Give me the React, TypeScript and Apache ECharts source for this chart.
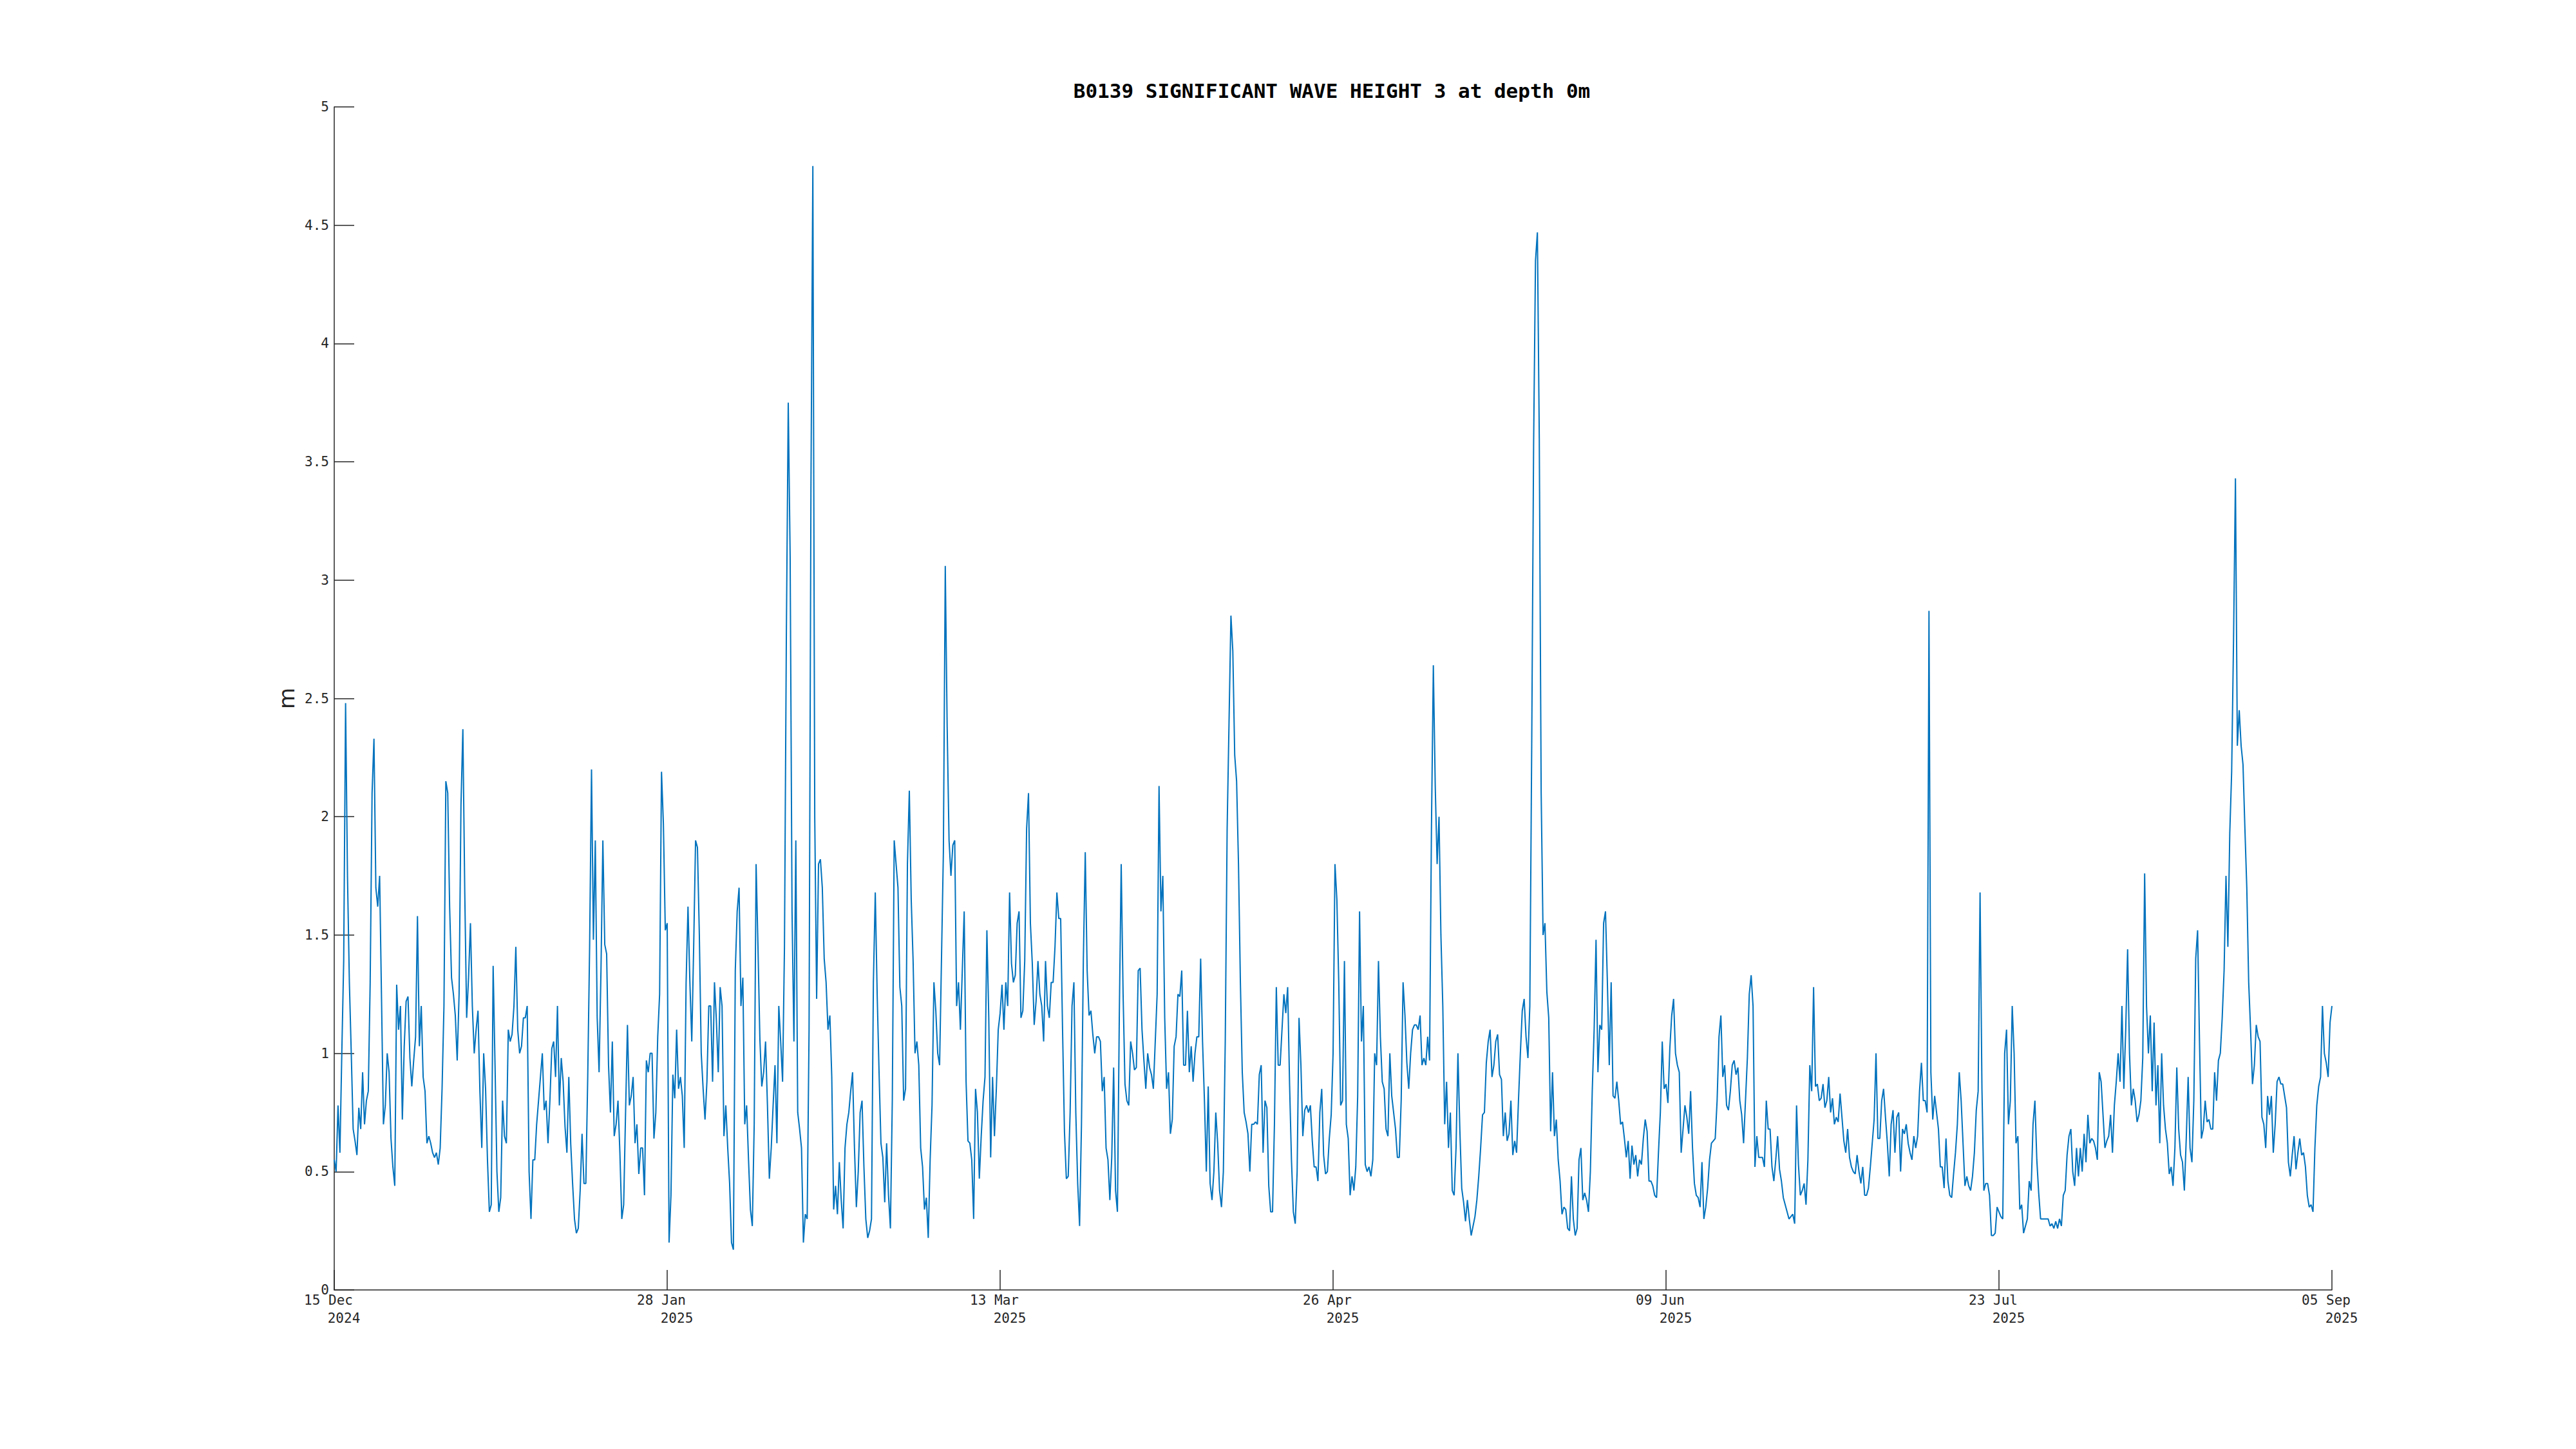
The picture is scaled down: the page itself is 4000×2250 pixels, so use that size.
import React, { useEffect, useRef } from "react";
import * as echarts from "echarts";

// Significant wave height (m), sampled every 6 hours from 15 Dec 2024 00:00
const START_UTC = Date.UTC(2024, 11, 15);
const STEP_DAYS = 0.25;

const hsDecJan = [
  0.55,0.5,0.78,0.58,1.0,1.39,2.48,1.75,1.3,1.0,
  0.68,0.63,0.57,0.77,0.68,0.92,0.7,0.8,0.84,1.3,
  2.1,2.33,1.7,1.62,1.75,1.23,0.7,0.78,1.0,0.92,
  0.64,0.52,0.44,1.29,1.1,1.2,0.72,1.03,1.22,1.24,
  0.98,0.86,0.97,1.07,1.58,1.03,1.2,0.9,0.84,0.62,
  0.65,0.62,0.58,0.56,0.58,0.53,0.6,0.85,1.2,2.15,
  2.1,1.62,1.32,1.25,1.16,0.97,1.25,2.05,2.37,1.68,
  1.15,1.32,1.55,1.2,1.0,1.1,1.18,0.84,0.6,1.0,
  0.85,0.55,0.33,0.36,1.37,0.95,0.5,0.33,0.39,0.8,
  0.65,0.62,1.1,1.05,1.08,1.2,1.45,1.1,1.0,1.03,
  1.15,1.15,1.2,0.5,0.3,
];
const hsJanFeb = [
  0.55,0.55,0.7,0.8,0.9,1.0,0.76,0.8,0.62,0.8,
  1.02,1.05,0.9,1.2,0.78,0.98,0.88,0.69,0.58,0.9,
  0.62,0.45,0.3,0.24,0.26,0.42,0.66,0.45,0.45,0.9,
  1.45,2.2,1.48,1.9,1.15,0.92,1.35,1.9,1.46,1.42,
  0.95,0.75,1.05,0.65,0.7,0.8,0.58,0.3,0.36,0.75,
  1.12,0.78,0.82,0.9,0.62,0.7,0.49,0.6,0.6,0.4,
  0.97,0.92,1.0,1.0,0.64,0.75,1.07,1.25,2.19,1.97,
  1.52,1.55,0.2,0.4,0.91,0.81,1.1,0.85,0.9,0.82,
  0.6,1.3,1.62,1.3,1.05,1.45,1.9,1.87,1.5,1.0,
  0.85,0.72,0.88,1.2,1.2,0.88,1.3,1.14,0.92,1.28,
  1.2,0.65,0.78,0.6,0.45,0.2,
];
const hsFebMar = [
  0.17,1.35,1.6,1.7,1.2,1.32,0.7,0.78,0.55,0.34,
  0.27,0.7,1.8,1.45,1.06,0.86,0.92,1.05,0.78,0.47,
  0.6,0.78,0.95,0.62,1.2,1.05,0.88,1.45,2.77,3.75,
  3.1,1.6,1.05,1.9,0.75,0.68,0.6,0.2,0.32,0.3,
  1.1,3.4,4.75,2.0,1.23,1.8,1.82,1.7,1.4,1.3,
  1.1,1.16,0.9,0.34,0.44,0.32,0.54,0.38,0.26,0.6,
  0.7,0.75,0.84,0.92,0.6,0.35,0.5,0.75,0.8,0.52,
  0.3,0.22,0.25,0.3,1.3,1.68,1.25,0.92,0.62,0.56,
  0.37,0.62,0.4,0.26,0.8,1.9,1.8,1.7,1.28,1.2,
  0.8,0.85,1.8,2.11,1.65,1.39,1.0,1.05,0.95,0.6,
  0.52,0.34,0.39,0.22,0.55,0.78,1.3,
];
const hsMarApr = [
  1.18,1.0,0.95,1.4,1.85,3.06,2.38,1.9,1.75,1.88,
  1.9,1.2,1.3,1.1,1.35,1.6,0.88,0.63,0.62,0.55,
  0.3,0.85,0.75,0.47,0.65,0.8,0.9,1.52,1.15,0.56,
  0.9,0.65,0.85,1.1,1.17,1.29,1.1,1.3,1.2,1.68,
  1.38,1.3,1.33,1.55,1.6,1.15,1.18,1.39,1.95,2.1,
  1.55,1.38,1.12,1.22,1.39,1.25,1.2,1.05,1.39,1.2,
  1.15,1.3,1.3,1.45,1.68,1.57,1.57,1.1,0.67,0.47,
  0.48,0.75,1.2,1.3,0.75,0.45,0.27,0.7,1.4,1.85,
  1.35,1.16,1.18,1.08,1.0,1.07,1.07,1.05,0.84,0.9,
  0.6,0.55,0.38,0.56,0.94,0.42,0.33,1.16,1.8,1.25,
  0.87,0.8,0.78,1.05,1.0,0.93,
];
const hsAprMay = [
  0.94,1.35,1.36,1.1,0.97,0.85,1.0,0.94,0.91,0.85,
  1.05,1.25,2.13,1.6,1.75,1.15,0.85,0.92,0.66,0.72,
  1.03,1.07,1.25,1.24,1.35,0.95,0.95,1.18,0.92,1.03,
  0.88,1.0,1.07,1.07,1.4,1.05,0.8,0.5,0.86,0.45,
  0.38,0.5,0.75,0.62,0.42,0.35,0.5,1.05,1.95,2.4,
  2.85,2.7,2.26,2.15,1.8,1.3,0.92,0.75,0.71,0.66,
  0.5,0.7,0.7,0.71,0.7,0.91,0.95,0.58,0.8,0.77,
  0.44,0.33,0.33,0.7,1.28,0.95,0.95,1.1,1.25,1.17,
  1.28,0.87,0.55,0.33,0.28,0.5,1.15,0.95,0.65,0.76,
  0.78,0.75,0.78,0.63,0.52,0.52,0.46,0.75,0.85,0.57,
  0.49,0.5,0.64,0.74,1.0,1.8,
];
const hsMayJun = [
  1.65,1.3,0.78,0.8,1.39,0.7,0.64,0.4,0.48,0.42,
  0.52,0.82,1.6,1.05,1.2,0.53,0.5,0.52,0.48,0.55,
  1.0,0.95,1.39,1.07,0.88,0.85,0.68,0.65,1.0,0.82,
  0.75,0.68,0.56,0.56,0.8,1.3,1.16,0.96,0.85,1.0,
  1.1,1.12,1.12,1.1,1.16,0.95,0.98,0.95,1.07,0.97,
  1.95,2.64,2.13,1.8,2.0,1.5,1.2,0.7,0.88,0.6,
  0.75,0.42,0.4,0.6,1.0,0.68,0.43,0.37,0.29,0.38,
  0.3,0.23,0.27,0.31,0.38,0.48,0.6,0.74,0.75,0.96,
  1.05,1.1,0.9,0.95,1.05,1.08,0.91,0.89,0.65,0.75,
  0.63,0.66,0.8,0.57,0.63,0.58,0.8,1.0,1.18,1.23,
  1.07,0.98,1.2,2.3,3.57,4.35,4.47,
];
const hsJunJul = [
  3.6,2.1,1.5,1.55,1.26,1.15,0.67,0.92,0.65,0.72,
  0.55,0.46,0.32,0.35,0.34,0.26,0.25,0.48,0.3,0.23,
  0.26,0.55,0.6,0.38,0.41,0.38,0.33,0.5,0.84,1.1,
  1.48,0.92,1.12,1.1,1.55,1.6,1.3,0.95,1.3,0.82,
  0.81,0.88,0.8,0.7,0.71,0.64,0.56,0.63,0.47,0.61,
  0.53,0.57,0.48,0.55,0.53,0.64,0.72,0.67,0.46,0.46,
  0.44,0.4,0.39,0.58,0.75,1.05,0.85,0.87,0.79,1.02,
  1.16,1.23,1.0,0.95,0.92,0.58,0.68,0.78,0.73,0.66,
  0.84,0.6,0.45,0.4,0.39,0.35,0.54,0.3,0.35,0.43,
  0.55,0.62,0.63,0.64,0.8,1.07,1.16,0.9,0.95,0.78,
  0.76,0.84,0.95,0.97,0.91,0.94,
];
const hsJulA = [
  0.8,0.74,0.62,0.8,0.98,1.25,1.33,1.2,0.52,0.65,
  0.56,0.56,0.56,0.52,0.8,0.68,0.68,0.52,0.46,0.55,
  0.65,0.51,0.46,0.39,0.36,0.33,0.3,0.31,0.32,0.28,
  0.78,0.53,0.4,0.42,0.45,0.36,0.55,0.95,0.84,1.28,
  0.86,0.87,0.8,0.81,0.87,0.77,0.8,0.9,0.75,0.81,
  0.7,0.73,0.71,0.83,0.73,0.63,0.58,0.68,0.56,0.52,
  0.5,0.49,0.57,0.5,0.45,0.52,0.4,0.4,0.43,0.52,
  0.62,0.72,1.0,0.64,0.64,0.8,0.85,0.73,0.62,0.48,
  0.7,0.76,0.58,0.73,0.75,0.5,0.68,0.66,0.7,0.62,
  0.58,0.55,0.65,0.6,0.65,0.84,0.96,0.8,0.8,0.75,
  2.87,0.92,0.72,0.82,0.75,0.68,
];
const hsJulAug = [
  0.52,0.52,0.43,0.64,0.46,0.4,0.39,0.49,0.58,0.7,
  0.92,0.8,0.62,0.44,0.48,0.44,0.42,0.48,0.58,0.76,
  0.84,1.68,0.85,0.42,0.45,0.45,0.4,0.23,0.23,0.24,
  0.35,0.33,0.31,0.3,1.0,1.1,0.7,0.8,1.2,1.0,
  0.62,0.65,0.34,0.36,0.24,0.27,0.3,0.46,0.42,0.7,
  0.8,0.55,0.41,0.3,0.3,0.3,0.3,0.3,0.27,0.28,
  0.26,0.29,0.26,0.3,0.27,0.4,0.42,0.57,0.65,0.68,
  0.5,0.44,0.6,0.48,0.6,0.5,0.66,0.54,0.74,0.62,
  0.64,0.63,0.6,0.55,0.92,0.88,0.74,0.6,0.63,0.65,
  0.74,0.58,0.78,0.88,1.0,0.88,1.2,0.85,1.1,1.44,
  1.0,0.78,0.85,0.8,0.71,0.74,
];
const hsAugSep = [
  0.8,0.98,1.76,1.2,1.0,1.16,0.84,1.13,0.78,0.95,
  0.62,1.0,0.78,0.68,0.62,0.49,0.52,0.44,0.6,0.94,
  0.68,0.57,0.54,0.42,0.64,0.9,0.6,0.54,0.8,1.4,
  1.52,1.05,0.64,0.68,0.8,0.71,0.72,0.68,0.68,0.92,
  0.8,0.97,1.0,1.15,1.35,1.75,1.45,1.93,2.19,2.75,
  3.43,2.3,2.45,2.3,2.22,1.95,1.7,1.3,1.1,0.87,
  0.95,1.12,1.07,1.05,0.73,0.7,0.6,0.82,0.74,0.82,
  0.58,0.7,0.88,0.9,0.87,0.87,0.82,0.77,0.54,0.48,
  0.57,0.65,0.51,0.58,0.64,0.57,0.58,0.52,0.4,0.35,
  0.36,0.33,0.6,0.78,0.86,0.9,1.2,1.0,0.96,0.9,
  1.13,1.2,
];

const TITLE = "B0139 SIGNIFICANT WAVE HEIGHT 3 at depth 0m";
const Y_NAME = "m";
const X_MAX_DAYS = 264;
const X_TICK_DAYS = 44;
const Y_MAX = 5;
const Y_TICK = 0.5;
const MONTHS = ["Jan","Feb","Mar","Apr","May","Jun","Jul","Aug","Sep","Oct","Nov","Dec"];

const AXIS_COLOR = "#262626";
const LINE_COLOR = "#0072BD";
const MONO = "'DejaVu Sans Mono', monospace";

export default function App() {
  const ref = useRef<HTMLDivElement>(null);

  useEffect(() => {
    if (!ref.current) return;
    const chart = echarts.init(ref.current, undefined, { renderer: "svg" });
    const hs = [
      ...hsDecJan, ...hsJanFeb, ...hsFebMar, ...hsMarApr, ...hsAprMay,
      ...hsMayJun, ...hsJunJul, ...hsJulA, ...hsJulAug, ...hsAugSep,
    ];
    const data = hs.map((v, i) => [i * STEP_DAYS, v]);

    const fmtDate = (d: number) => {
      const dt = new Date(START_UTC + Math.round(d * 86400000));
      const dd = String(dt.getUTCDate()).padStart(2, "0");
      return { a: `${dd} ${MONTHS[dt.getUTCMonth()]}`, b: `${dt.getUTCFullYear()}` };
    };

    chart.setOption({
      animation: false,
      backgroundColor: "#ffffff",
      grid: { left: 511, right: 387, top: 158, bottom: 255, containLabel: false },
      graphic: [
        {
          type: "text",
          x: 2060,
          y: 133,
          style: {
            text: TITLE,
            font: `bold 31px ${MONO}`,
            fill: "#000000",
            textAlign: "center",
            textVerticalAlign: "middle",
          },
        },
      ],
      xAxis: {
        type: "value",
        min: 0,
        max: X_MAX_DAYS,
        interval: X_TICK_DAYS,
        axisLine: { show: true, lineStyle: { color: AXIS_COLOR, width: 1.5 } },
        axisTick: { show: true, inside: true, length: 31, lineStyle: { color: AXIS_COLOR, width: 1.5 } },
        splitLine: { show: false },
        axisLabel: {
          margin: 2,
          color: AXIS_COLOR,
          fontFamily: MONO,
          fontSize: 21,
          lineHeight: 28,
          formatter: (v: number) => {
            const f = fmtDate(v);
            return `{a|${f.a}}\n{b|${f.b}}`;
          },
          rich: {
            a: { fontFamily: MONO, fontSize: 21, color: AXIS_COLOR, lineHeight: 28, padding: [0, 18, 0, 0] },
            b: { fontFamily: MONO, fontSize: 21, color: AXIS_COLOR, lineHeight: 28, padding: [0, 0, 0, 30] },
          },
        },
      },
      yAxis: {
        type: "value",
        min: 0,
        max: Y_MAX,
        interval: Y_TICK,
        name: Y_NAME,
        nameLocation: "middle",
        nameRotate: 90,
        nameGap: 57,
        nameTextStyle: { fontFamily: "'DejaVu Sans', sans-serif", fontSize: 34, color: AXIS_COLOR },
        axisLine: { show: true, lineStyle: { color: AXIS_COLOR, width: 1.5 } },
        axisTick: { show: true, inside: true, length: 31, lineStyle: { color: AXIS_COLOR, width: 1.5 } },
        splitLine: { show: false },
        axisLabel: { margin: 8, color: AXIS_COLOR, fontFamily: MONO, fontSize: 21 },
      },
      series: [
        {
          type: "line",
          data,
          showSymbol: false,
          symbol: "none",
          lineStyle: { color: LINE_COLOR, width: 2 },
          emphasis: { disabled: true },
        },
      ],
      tooltip: { show: false },
    });

    return () => chart.dispose();
  }, []);

  return (
    <div
      ref={ref}
      style={{ position: "fixed", left: 0, top: 0, width: 4000, height: 2250, background: "#fff" }}
    />
  );
}
